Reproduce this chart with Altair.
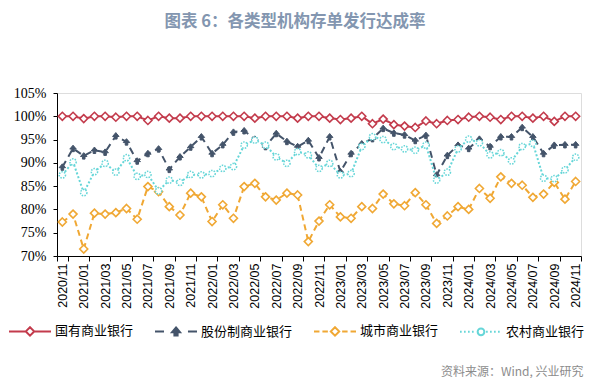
import altair as alt
import pandas as pd

# ---- data ----
months = ["2020/11", "2020/12"] + [f"{y}/{m:02d}" for y in (2021, 2022, 2023) for m in range(1, 13)] + [f"2024/{m:02d}" for m in range(1, 12)]

series_names = ["国有商业银行", "股份制商业银行", "城市商业银行", "农村商业银行"]

state_owned = [100, 100, 99.5, 100, 100, 99.8, 100, 100, 99.1, 100, 99.6, 99.6, 100,
               100, 100, 100, 100, 100, 99.6, 100, 100, 100, 99.6, 100, 100,
               99.6, 99.3, 99.6, 100, 98.4, 99.4, 98.2, 97.9, 97.6, 99.0, 98.4, 99.1,
               99.3, 99.8, 100, 99.8, 99.3, 100, 100, 99.6, 100, 98.9, 100, 100]
joint_stock = [89.1, 93.1, 91.5, 92.7, 92.3, 95.8, 94.5, 90.4, 92.0, 93.0, 88.6, 91.3, 93.4,
               95.6, 92.0, 93.9, 96.6, 96.9, 95.1, 93.5, 96.3, 94.6, 93.5, 94.8, 91.1,
               95.6, 88.1, 92.0, 94.1, 95.2, 97.4, 96.4, 96.0, 94.8, 95.9, 87.4, 91.6,
               93.8, 93.1, 95.1, 93.5, 95.6, 95.6, 97.6, 95.6, 92.0, 93.8, 93.9, 93.9]
city = [77.3, 79.0, 71.5, 79.2, 79.0, 79.3, 80.2, 77.9, 84.9, 83.8, 80.6, 78.8, 83.5,
        82.7, 77.4, 81.0, 78.1, 84.9, 85.6, 82.7, 82.0, 83.5, 83.1, 73.1, 77.5,
        81.0, 78.4, 78.1, 80.6, 80.2, 83.3, 81.2, 80.8, 83.6, 81.0, 77.0, 78.6,
        80.6, 80.0, 84.5, 82.4, 87.0, 85.6, 85.2, 82.6, 83.3, 85.8, 82.2, 86.0]
rural = [87.4, 90.2, 83.6, 88.1, 89.9, 88.0, 91.1, 87.1, 87.5, 84.0, 86.3, 85.8, 87.5,
         87.4, 87.7, 88.8, 89.2, 93.8, 94.9, 93.8, 91.3, 89.9, 92.4, 91.7, 88.8,
         89.9, 87.4, 87.7, 93.5, 95.6, 95.0, 93.5, 93.0, 92.7, 93.8, 86.3, 88.0,
         93.0, 95.1, 94.3, 91.7, 92.2, 90.4, 93.5, 94.2, 86.7, 86.6, 88.5, 91.2]

y_ticks = [70, 75, 80, 85, 90, 95, 100, 105]

series_values = [state_owned, joint_stock, city, rural]

# ---- styles ----
colors = ["#C33B4C", "#44546A", "#F0A834", "#66D6D8"]
dashes = [[1, 0], [7, 5], [6, 4], [2, 2]]
DIAMOND = "M0,-1L1,0L0,1L-1,0Z"
ARROW = "M0,-1L1,0.2L0.4,0.2L0.4,1L-0.4,1L-0.4,0.2L-1,0.2Z"


def seg(a, b):
    return f"M{a:.3f},0L{b:.3f},0"


def diamond(r):
    return f"M0,{-r}L{r},0L0,{r}L{-r},0Z"


def arrow(r):
    return (f"M0,{-r:.3f}L{r:.3f},{0.2*r:.3f}L{0.4*r:.3f},{0.2*r:.3f}L{0.4*r:.3f},{r:.3f}"
            f"L{-0.4*r:.3f},{r:.3f}L{-0.4*r:.3f},{0.2*r:.3f}L{-r:.3f},{0.2*r:.3f}Z")


def circle(r):
    return f"M{r},0A{r},{r} 0 1,1 {-r},0A{r},{r} 0 1,1 {r},0"


dots_left = "".join(seg(-1 + k * 0.19, -1 + k * 0.19 + 0.08) for k in range(4))
dots_right = "".join(seg(0.24 + k * 0.19, 0.24 + k * 0.19 + 0.08) for k in range(4))
legend_paths = [
    seg(-1, -0.2) + seg(0.2, 1) + diamond(0.2),
    seg(-1, -0.57) + seg(0.57, 1) + arrow(0.19),
    seg(-1, -0.74) + seg(-0.6, -0.34) + seg(0.34, 0.6) + seg(0.74, 1) + diamond(0.2),
    dots_left + dots_right + circle(0.16),
]
legend_fills = ["white", "#44546A", "white", "white"]

# ---- table ----
rows = []
for name, vals in zip(series_names, series_values):
    for m, v in zip(months, vals):
        rows.append({"month": m, "series": name, "value": v})
df = pd.DataFrame(rows)

x_enc = alt.X(
    "month:O",
    sort=months,
    scale=alt.Scale(type="band", domain=months, paddingInner=0, paddingOuter=0),
    axis=alt.Axis(
        values=months[::2], tickBand="extent", labelAngle=-90, labelPadding=2,
        labelFont="Liberation Sans", labelFontSize=12.5, labelColor="#000000",
        domainColor="#000000", tickColor="#000000", tickSize=5,
        title="资料来源：Wind, 兴业研究", titleFont="Noto Sans CJK SC", titleFontSize=12,
        titleFontWeight="normal", titleColor="#8C8C8C", titleAnchor="end", titleAlign="right",
        titleBaseline="middle", titleX=526, titleY=115, titleAngle=0,
    ),
)
y_enc = alt.Y(
    "value:Q",
    scale=alt.Scale(domain=[70, 105], nice=False, zero=False),
    axis=alt.Axis(
        values=y_ticks, labelExpr="datum.value + '%'", title=None, grid=False,
        labelFont="Liberation Serif", labelFontSize=14, labelColor="#000000", labelPadding=7,
        domainColor="#000000", tickColor="#000000", tickSize=4,
    ),
)

layers = []
marker_cfg = [
    dict(shape=DIAMOND, size=64, filled=True, fill="white", strokeWidth=1.6),
    dict(shape=ARROW, size=42, filled=True, fill=colors[1], strokeWidth=1),
    dict(shape=DIAMOND, size=64, filled=True, fill="white", strokeWidth=1.6),
    dict(shape="circle", size=40, filled=True, fill="white", strokeWidth=1.5, strokeDash=[1.5, 1.2]),
]
for name, col, dash, mk in zip(series_names, colors, dashes, marker_cfg):
    sub = df[df["series"] == name]
    layers.append(
        alt.Chart(sub).mark_line(color=col, strokeWidth=2, strokeDash=dash).encode(x=x_enc, y=y_enc)
    )
    layers.append(
        alt.Chart(sub).mark_point(stroke=col, opacity=1, **mk).encode(x=x_enc, y=y_enc)
    )

legend_df = pd.DataFrame({"series": series_names, "month": [months[0]] * 4, "value": [None] * 4})
leg = alt.Legend(
    title=None, orient="none", legendX=-49, legendY=216, direction="horizontal", columns=4,
    symbolSize=1764, symbolStrokeWidth=2, labelFont="Noto Sans CJK SC", labelFontSize=13,
    labelColor="#000000", labelOffset=3, columnPadding=17, padding=0,
)
legend_layer = alt.Chart(legend_df).mark_point(filled=True, opacity=1, clip=True).encode(
    x=x_enc,
    y=y_enc,
    stroke=alt.Stroke("series:N", scale=alt.Scale(domain=series_names, range=colors), legend=leg),
    fill=alt.Fill("series:N", scale=alt.Scale(domain=series_names, range=legend_fills), legend=leg),
    shape=alt.Shape("series:N", scale=alt.Scale(domain=series_names, range=legend_paths), legend=leg),
)
layers.append(legend_layer)

chart = alt.layer(*layers).properties(
    width=524,
    height=163,
    title=alt.TitleParams(
        text="图表 6：各类型机构存单发行达成率", anchor="middle", frame="group", dx=-24,
        font="Noto Sans CJK SC", fontSize=16.5, fontWeight="bold", color="#8396B0",
        baseline="bottom", offset=40,
    ),
    padding={"left": 49, "top": 85, "right": 13, "bottom": 122},
    autosize=alt.AutoSizeParams(type="none"),
).configure_view(stroke=None).configure(background="white")

chart.save("out.html", embed_options={"renderer": "svg", "actions": False})
